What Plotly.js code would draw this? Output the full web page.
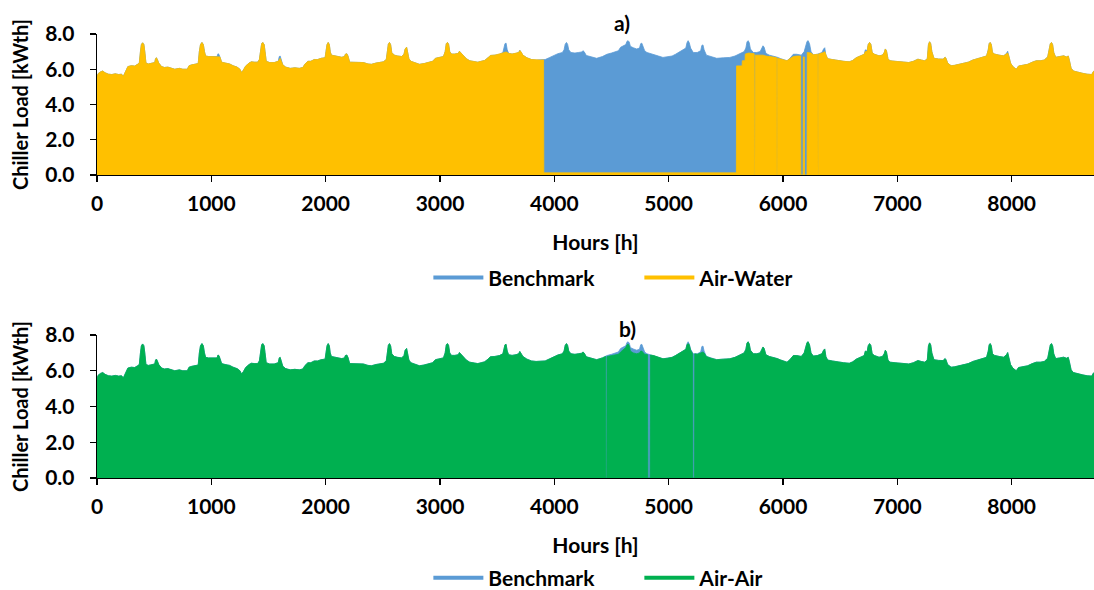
<!DOCTYPE html>
<html>
<head>
<meta charset="utf-8">
<script src="https://cdn.plot.ly/plotly-3.0.1.min.js"></script>
<style>html,body{margin:0;padding:0;background:#fff;}#chart{width:1094px;height:590px;}</style>
</head>
<body>
<div id="chart"></div>
<script>
// ---- Data: [hour, kWth] points along the upper envelope of the hourly chiller load ----
const benchmarkPts = [[0,5.55],[10,5.75],[30,5.85],[50,5.90],[70,5.80],[100,5.72],[130,5.70],[160,5.74],[190,5.70],[215,5.72],[230,5.60],[250,5.85],[270,6.15],[300,6.20],[330,6.18],[355,6.28],[370,6.35],[380,7.00],[388,7.40],[399,7.50],[410,7.40],[418,7.00],[428,6.35],[450,6.30],[480,6.35],[505,6.38],[512,6.60],[520,6.65],[528,6.55],[540,6.35],[565,6.15],[590,6.10],[620,6.12],[650,6.05],[680,6.00],[720,6.05],[750,6.00],[790,6.00],[805,6.20],[830,6.25],[860,6.30],[885,6.32],[895,7.00],[905,7.40],[918,7.52],[930,7.40],[940,7.00],[950,6.75],[975,6.72],[1000,6.72],[1030,6.70],[1050,6.72],[1058,6.88],[1066,6.85],[1075,6.70],[1090,6.40],[1120,6.35],[1160,6.30],[1190,6.20],[1225,6.12],[1250,6.00],[1264,5.82],[1280,5.95],[1300,6.18],[1330,6.35],[1350,6.42],[1380,6.40],[1405,6.40],[1420,6.55],[1432,7.20],[1440,7.45],[1450,7.52],[1462,7.40],[1470,7.00],[1480,6.45],[1510,6.38],[1550,6.38],[1585,6.45],[1594,6.72],[1602,6.75],[1610,6.55],[1625,6.25],[1650,6.12],[1690,6.05],[1730,6.08],[1770,6.05],[1800,6.10],[1820,6.30],[1845,6.45],[1870,6.45],[1900,6.55],[1930,6.55],[1960,6.62],[1995,6.65],[2005,7.10],[2012,7.40],[2022,7.52],[2032,7.40],[2040,7.00],[2050,6.80],[2080,6.76],[2110,6.70],[2140,6.68],[2165,6.72],[2172,6.85],[2185,6.88],[2195,6.75],[2210,6.40],[2250,6.38],[2290,6.40],[2330,6.38],[2370,6.30],[2400,6.28],[2440,6.35],[2475,6.40],[2505,6.42],[2530,6.55],[2540,7.10],[2548,7.42],[2558,7.52],[2568,7.40],[2578,6.95],[2600,6.80],[2630,6.75],[2665,6.72],[2685,6.85],[2695,7.15],[2708,7.25],[2716,7.00],[2728,6.60],[2745,6.45],[2780,6.35],[2820,6.28],[2860,6.32],[2900,6.38],[2935,6.45],[2960,6.62],[2990,6.68],[3030,6.72],[3045,7.00],[3055,7.45],[3065,7.52],[3075,7.42],[3085,7.00],[3100,6.86],[3130,6.86],[3160,6.90],[3170,7.02],[3180,6.95],[3200,6.78],[3230,6.60],[3260,6.48],[3300,6.45],[3330,6.40],[3360,6.45],[3390,6.50],[3420,6.65],[3440,6.78],[3480,6.80],[3520,6.85],[3550,6.95],[3560,7.20],[3568,7.45],[3578,7.48],[3588,7.10],[3600,6.90],[3630,6.86],[3665,6.90],[3688,6.95],[3698,7.08],[3708,7.00],[3725,6.80],[3760,6.65],[3800,6.55],[3840,6.52],[3880,6.52],[3920,6.55],[3960,6.67],[3990,6.78],[4030,6.88],[4070,6.95],[4085,7.10],[4095,7.42],[4106,7.52],[4116,7.42],[4126,7.10],[4145,6.95],[4180,6.92],[4210,6.95],[4240,6.98],[4250,7.05],[4260,7.00],[4280,6.78],[4320,6.70],[4370,6.62],[4420,6.72],[4460,6.85],[4500,6.92],[4530,6.98],[4560,7.05],[4580,7.25],[4600,7.30],[4625,7.40],[4635,7.58],[4645,7.62],[4655,7.55],[4665,7.30],[4690,7.22],[4720,7.15],[4745,7.20],[4755,7.45],[4765,7.48],[4775,7.25],[4790,7.05],[4810,6.95],[4840,6.88],[4870,6.85],[4910,6.75],[4950,6.67],[4990,6.70],[5030,6.75],[5060,6.85],[5090,6.98],[5120,7.12],[5150,7.20],[5160,7.50],[5170,7.62],[5180,7.50],[5192,7.20],[5215,6.95],[5250,6.95],[5280,7.05],[5290,7.35],[5300,7.38],[5310,7.10],[5330,6.80],[5370,6.70],[5420,6.62],[5480,6.65],[5535,6.67],[5580,6.75],[5622,6.86],[5660,7.00],[5675,7.20],[5685,7.55],[5695,7.62],[5705,7.50],[5715,7.15],[5740,6.95],[5770,6.95],[5800,7.00],[5815,7.20],[5825,7.33],[5835,7.25],[5850,6.90],[5880,6.80],[5915,6.76],[5950,6.68],[5980,6.60],[6010,6.52],[6035,6.48],[6060,6.62],[6090,6.85],[6120,6.85],[6160,6.80],[6185,7.00],[6200,7.30],[6210,7.58],[6220,7.62],[6232,7.45],[6245,7.00],[6265,6.82],[6300,6.85],[6340,6.95],[6355,7.15],[6365,7.22],[6375,6.80],[6390,6.60],[6430,6.55],[6480,6.48],[6530,6.45],[6580,6.42],[6610,6.50],[6640,6.65],[6680,6.75],[6710,6.85],[6720,7.10],[6735,7.05],[6745,7.40],[6757,7.52],[6768,7.42],[6780,6.95],[6800,6.85],[6840,6.76],[6870,6.80],[6885,6.95],[6895,7.15],[6905,7.05],[6918,6.60],[6935,6.48],[6980,6.45],[7020,6.42],[7060,6.40],[7100,6.38],[7140,6.45],[7180,6.57],[7210,6.52],[7240,6.48],[7262,6.60],[7272,7.40],[7282,7.56],[7292,7.45],[7302,7.00],[7320,6.62],[7360,6.58],[7400,6.57],[7418,6.68],[7425,6.62],[7440,6.35],[7470,6.20],[7500,6.22],[7540,6.28],[7580,6.30],[7620,6.40],[7660,6.52],[7700,6.60],[7745,6.67],[7780,6.75],[7795,7.10],[7803,7.45],[7812,7.52],[7822,7.40],[7832,6.95],[7850,6.86],[7890,6.80],[7930,6.76],[7955,6.90],[7965,7.02],[7975,6.75],[7990,6.35],[8010,6.15],[8040,6.00],[8060,6.18],[8100,6.22],[8140,6.28],[8180,6.40],[8215,6.48],[8250,6.48],[8285,6.52],[8315,6.70],[8330,7.10],[8338,7.45],[8348,7.52],[8358,7.40],[8368,6.95],[8385,6.68],[8420,6.72],[8455,6.76],[8480,6.70],[8495,6.75],[8505,6.50],[8520,6.05],[8540,5.90],[8580,5.82],[8620,5.77],[8660,5.72],[8700,5.70],[8716,5.88],[8740,5.85],[8760,5.80]];

const airWaterPts = [[0,5.55],[10,5.75],[30,5.85],[50,5.90],[70,5.80],[100,5.72],[130,5.70],[160,5.74],[190,5.70],[215,5.72],[230,5.60],[250,5.85],[270,6.15],[300,6.20],[330,6.18],[355,6.28],[370,6.35],[380,7.00],[388,7.40],[399,7.50],[410,7.40],[418,7.00],[428,6.35],[450,6.30],[480,6.35],[505,6.38],[512,6.60],[520,6.65],[528,6.55],[540,6.35],[565,6.15],[590,6.10],[620,6.12],[650,6.05],[680,6.00],[720,6.05],[750,6.00],[790,6.00],[805,6.20],[830,6.25],[860,6.30],[885,6.32],[895,7.00],[905,7.40],[918,7.52],[930,7.40],[940,7.00],[950,6.75],[975,6.72],[1000,6.72],[1030,6.70],[1050,6.72],[1058,6.72],[1066,6.72],[1075,6.70],[1090,6.40],[1120,6.35],[1160,6.30],[1190,6.20],[1225,6.12],[1250,6.00],[1264,5.82],[1280,5.95],[1300,6.18],[1330,6.35],[1350,6.42],[1380,6.40],[1405,6.40],[1420,6.55],[1432,7.20],[1440,7.45],[1450,7.52],[1462,7.40],[1470,7.00],[1480,6.45],[1510,6.38],[1550,6.38],[1585,6.45],[1594,6.60],[1602,6.62],[1610,6.50],[1625,6.25],[1650,6.12],[1690,6.05],[1730,6.08],[1770,6.05],[1800,6.10],[1820,6.30],[1845,6.45],[1870,6.45],[1900,6.55],[1930,6.55],[1960,6.62],[1995,6.65],[2005,7.10],[2012,7.40],[2022,7.52],[2032,7.40],[2040,7.00],[2050,6.80],[2080,6.76],[2110,6.70],[2140,6.68],[2165,6.72],[2172,6.85],[2185,6.88],[2195,6.75],[2210,6.40],[2250,6.38],[2290,6.40],[2330,6.38],[2370,6.30],[2400,6.28],[2440,6.35],[2475,6.40],[2505,6.42],[2530,6.55],[2540,7.10],[2548,7.42],[2558,7.52],[2568,7.40],[2578,6.95],[2600,6.80],[2630,6.75],[2665,6.72],[2685,6.85],[2695,7.15],[2708,7.25],[2716,7.00],[2728,6.60],[2745,6.45],[2780,6.35],[2820,6.28],[2860,6.32],[2900,6.38],[2935,6.45],[2960,6.62],[2990,6.68],[3030,6.72],[3045,7.00],[3055,7.45],[3065,7.52],[3075,7.42],[3085,7.00],[3100,6.86],[3130,6.86],[3160,6.90],[3170,7.02],[3180,6.95],[3200,6.78],[3230,6.60],[3260,6.48],[3300,6.45],[3330,6.40],[3360,6.45],[3390,6.50],[3420,6.65],[3440,6.78],[3480,6.80],[3520,6.85],[3550,6.92],[3560,6.95],[3568,6.98],[3578,6.98],[3588,6.95],[3600,6.90],[3630,6.86],[3665,6.90],[3688,6.95],[3698,7.05],[3708,7.00],[3725,6.80],[3760,6.65],[3800,6.55],[3840,6.52],[3880,6.52],[3906,6.53],[3908,0.12],[4500,0.12],[5000,0.12],[5592,0.12],[5594,6.19],[5642,6.19],[5644,6.48],[5668,6.48],[5670,6.86],[5700,6.92],[5720,6.90],[5748,6.88],[5750,0],[5755,0],[5757,6.80],[5770,6.80],[5800,6.78],[5825,6.80],[5850,6.75],[5880,6.72],[5915,6.70],[5944,6.66],[5946,0],[5949,0],[5951,6.62],[5980,6.58],[6010,6.52],[6035,6.48],[6060,6.60],[6090,6.72],[6120,6.75],[6154,6.75],[6156,0],[6176,0],[6178,6.70],[6186,6.70],[6188,0],[6210,0],[6212,6.95],[6232,6.95],[6245,6.92],[6265,6.82],[6300,6.85],[6304,6.85],[6306,0],[6309,0],[6311,6.86],[6340,6.90],[6355,6.95],[6365,7.00],[6375,6.80],[6390,6.60],[6430,6.55],[6480,6.48],[6530,6.45],[6580,6.42],[6610,6.50],[6640,6.65],[6680,6.75],[6710,6.85],[6720,7.00],[6735,7.00],[6745,7.40],[6757,7.52],[6768,7.42],[6780,6.95],[6800,6.85],[6840,6.76],[6870,6.80],[6885,6.95],[6895,7.15],[6905,7.05],[6918,6.60],[6935,6.48],[6980,6.45],[7020,6.42],[7060,6.40],[7100,6.38],[7140,6.45],[7180,6.57],[7210,6.52],[7240,6.48],[7262,6.60],[7272,7.40],[7282,7.56],[7292,7.45],[7302,7.00],[7320,6.62],[7360,6.58],[7400,6.57],[7418,6.68],[7425,6.62],[7440,6.35],[7470,6.20],[7500,6.22],[7540,6.28],[7580,6.30],[7620,6.40],[7660,6.52],[7700,6.60],[7745,6.67],[7780,6.75],[7795,7.10],[7803,7.45],[7812,7.52],[7822,7.40],[7832,6.95],[7850,6.86],[7890,6.80],[7930,6.76],[7955,6.88],[7965,6.92],[7975,6.75],[7990,6.35],[8010,6.15],[8040,6.00],[8060,6.18],[8100,6.22],[8140,6.28],[8180,6.40],[8215,6.48],[8250,6.48],[8285,6.52],[8315,6.70],[8330,7.10],[8338,7.45],[8348,7.52],[8358,7.40],[8368,6.95],[8385,6.68],[8420,6.72],[8455,6.76],[8480,6.70],[8495,6.75],[8505,6.50],[8520,6.05],[8540,5.90],[8580,5.82],[8620,5.77],[8660,5.72],[8700,5.70],[8716,5.88],[8740,5.85],[8760,5.80]];

const airAirPts = [[0,5.55],[10,5.75],[30,5.85],[50,5.90],[70,5.80],[100,5.72],[130,5.70],[160,5.74],[190,5.70],[215,5.72],[230,5.60],[250,5.85],[270,6.15],[300,6.20],[330,6.18],[355,6.28],[370,6.35],[380,7.00],[388,7.40],[399,7.50],[410,7.40],[418,7.00],[428,6.35],[450,6.30],[480,6.35],[505,6.38],[512,6.60],[520,6.65],[528,6.55],[540,6.35],[565,6.15],[590,6.10],[620,6.12],[650,6.05],[680,6.00],[720,6.05],[750,6.00],[790,6.00],[805,6.20],[830,6.25],[860,6.30],[885,6.32],[895,7.00],[905,7.40],[918,7.52],[930,7.40],[940,7.00],[950,6.75],[975,6.72],[1000,6.72],[1030,6.70],[1050,6.72],[1058,6.88],[1066,6.85],[1075,6.70],[1090,6.40],[1120,6.35],[1160,6.30],[1190,6.20],[1225,6.12],[1250,6.00],[1264,5.82],[1280,5.95],[1300,6.18],[1330,6.35],[1350,6.42],[1380,6.40],[1405,6.40],[1420,6.55],[1432,7.20],[1440,7.45],[1450,7.52],[1462,7.40],[1470,7.00],[1480,6.45],[1510,6.38],[1550,6.38],[1585,6.45],[1594,6.72],[1602,6.75],[1610,6.55],[1625,6.25],[1650,6.12],[1690,6.05],[1730,6.08],[1770,6.05],[1800,6.10],[1820,6.30],[1845,6.45],[1870,6.45],[1900,6.55],[1930,6.55],[1960,6.62],[1995,6.65],[2005,7.10],[2012,7.40],[2022,7.52],[2032,7.40],[2040,7.00],[2050,6.80],[2080,6.76],[2110,6.70],[2140,6.68],[2165,6.72],[2172,6.85],[2185,6.88],[2195,6.75],[2210,6.40],[2250,6.38],[2290,6.40],[2330,6.38],[2370,6.30],[2400,6.28],[2440,6.35],[2475,6.40],[2505,6.42],[2530,6.55],[2540,7.10],[2548,7.42],[2558,7.52],[2568,7.40],[2578,6.95],[2600,6.80],[2630,6.75],[2665,6.72],[2685,6.85],[2695,7.15],[2708,7.25],[2716,7.00],[2728,6.60],[2745,6.45],[2780,6.35],[2820,6.28],[2860,6.32],[2900,6.38],[2935,6.45],[2960,6.62],[2990,6.68],[3030,6.72],[3045,7.00],[3055,7.45],[3065,7.52],[3075,7.42],[3085,7.00],[3100,6.86],[3130,6.86],[3160,6.90],[3170,7.02],[3180,6.95],[3200,6.78],[3230,6.60],[3260,6.48],[3300,6.45],[3330,6.40],[3360,6.45],[3390,6.50],[3420,6.65],[3440,6.78],[3480,6.80],[3520,6.85],[3550,6.95],[3560,7.20],[3568,7.45],[3578,7.48],[3588,7.10],[3600,6.90],[3630,6.86],[3665,6.90],[3688,6.95],[3698,7.08],[3708,7.00],[3725,6.80],[3760,6.65],[3800,6.55],[3840,6.52],[3880,6.52],[3920,6.55],[3960,6.67],[3990,6.78],[4030,6.88],[4070,6.95],[4085,7.10],[4095,7.42],[4106,7.52],[4116,7.42],[4126,7.10],[4145,6.95],[4180,6.92],[4210,6.95],[4240,6.98],[4250,7.05],[4260,7.00],[4280,6.78],[4320,6.70],[4370,6.62],[4420,6.72],[4449,6.80],[4451,0],[4459,0],[4461,6.80],[4500,6.85],[4530,6.88],[4560,6.92],[4580,7.05],[4600,7.15],[4625,7.30],[4635,7.45],[4645,7.50],[4655,7.40],[4665,7.10],[4690,7.00],[4720,6.95],[4745,7.00],[4755,7.10],[4765,7.10],[4775,7.00],[4790,6.92],[4816,6.90],[4818,0],[4838,0],[4840,6.88],[4870,6.85],[4910,6.75],[4950,6.67],[4990,6.70],[5030,6.75],[5060,6.85],[5090,6.98],[5120,7.12],[5150,7.20],[5160,7.45],[5170,7.52],[5180,7.45],[5192,7.15],[5210,6.95],[5212,0],[5226,0],[5228,6.95],[5250,6.92],[5280,7.00],[5290,7.05],[5300,7.05],[5310,7.00],[5330,6.80],[5370,6.70],[5420,6.62],[5480,6.65],[5535,6.67],[5580,6.75],[5622,6.86],[5660,7.00],[5675,7.20],[5685,7.55],[5695,7.62],[5705,7.50],[5715,7.15],[5740,6.95],[5770,6.95],[5800,7.00],[5815,7.20],[5825,7.33],[5835,7.25],[5850,6.90],[5880,6.80],[5915,6.76],[5950,6.68],[5980,6.60],[6010,6.52],[6035,6.48],[6060,6.62],[6090,6.85],[6120,6.85],[6160,6.80],[6185,7.00],[6200,7.30],[6210,7.58],[6220,7.62],[6232,7.45],[6245,7.00],[6265,6.82],[6300,6.85],[6340,6.95],[6355,7.15],[6365,7.22],[6375,6.80],[6390,6.60],[6430,6.55],[6480,6.48],[6530,6.45],[6580,6.42],[6610,6.50],[6640,6.65],[6680,6.75],[6710,6.85],[6720,7.10],[6735,7.05],[6745,7.40],[6757,7.52],[6768,7.42],[6780,6.95],[6800,6.85],[6840,6.76],[6870,6.80],[6885,6.95],[6895,7.15],[6905,7.05],[6918,6.60],[6935,6.48],[6980,6.45],[7020,6.42],[7060,6.40],[7100,6.38],[7140,6.45],[7180,6.57],[7210,6.52],[7240,6.48],[7262,6.60],[7272,7.40],[7282,7.56],[7292,7.45],[7302,7.00],[7320,6.62],[7360,6.58],[7400,6.57],[7418,6.68],[7425,6.62],[7440,6.35],[7470,6.20],[7500,6.22],[7540,6.28],[7580,6.30],[7620,6.40],[7660,6.52],[7700,6.60],[7745,6.67],[7780,6.75],[7795,7.10],[7803,7.45],[7812,7.52],[7822,7.40],[7832,6.95],[7850,6.86],[7890,6.80],[7930,6.76],[7955,6.90],[7965,7.02],[7975,6.75],[7990,6.35],[8010,6.15],[8040,6.00],[8060,6.18],[8100,6.22],[8140,6.28],[8180,6.40],[8215,6.48],[8250,6.48],[8285,6.52],[8315,6.70],[8330,7.10],[8338,7.45],[8348,7.52],[8358,7.40],[8368,6.95],[8385,6.68],[8420,6.72],[8455,6.76],[8480,6.70],[8495,6.75],[8505,6.50],[8520,6.05],[8540,5.90],[8580,5.82],[8620,5.77],[8660,5.72],[8700,5.70],[8716,5.88],[8740,5.85],[8760,5.80]];

const xTicks = [0,1000,2000,3000,4000,5000,6000,7000,8000];
const yTicks = [0,2,4,6,8];
const panelLabels = ['a)','b)'];
const seriesNames = ['Benchmark','Air-Water','Air-Air'];

// ---- Styling ----
const BLUE = '#5B9BD5', YELLOW = '#FFC000', GREEN = '#00B050';
const FONT = {family: 'Lato, "Open Sans", sans-serif', size: 21, color: '#000', weight: 700};
const YTITLE_FONT = Object.assign({}, FONT, {size: 20});

function area(pts, color, xa, ya) {
  return {x: pts.map(p => p[0]), y: pts.map(p => p[1]), type: 'scatter', mode: 'lines', fill: 'tozeroy',
          fillcolor: color, line: {color: color, width: 0.8},
          xaxis: xa, yaxis: ya, showlegend: false, hoverinfo: 'skip'};
}
function legendItem(name, color, leg) {
  return {x: [null], y: [null], type: 'scatter', mode: 'lines', name: name,
          line: {color: color, width: 4}, legend: leg, showlegend: true, xaxis: 'x', yaxis: 'y'};
}

const traces = [
  area(benchmarkPts, BLUE, 'x', 'y'),
  area(airWaterPts, YELLOW, 'x', 'y'),
  area(benchmarkPts, BLUE, 'x2', 'y2'),
  area(airAirPts, GREEN, 'x2', 'y2'),
  legendItem(seriesNames[0], BLUE, 'legend'),
  legendItem(seriesNames[1], YELLOW, 'legend'),
  legendItem(seriesNames[0], BLUE, 'legend2'),
  legendItem(seriesNames[2], GREEN, 'legend2')
];

function xAxis(anchor) {
  return {anchor: anchor, domain: [0, 1], range: [0, 8720], tickvals: xTicks,
          ticks: 'outside', ticklen: 6, tickcolor: '#000', tickwidth: 1.3,
          showline: true, linecolor: '#000', linewidth: 1,
          showgrid: false, zeroline: false, tickfont: FONT, ticklabelstandoff: 4,
          title: {text: 'Hours [h]', font: FONT, standoff: 21}};
}
function yAxis(anchor, domain) {
  return {anchor: anchor, domain: domain, range: [0, 8], tickvals: yTicks, tickformat: '.1f',
          ticks: 'outside', ticklen: 6, tickcolor: '#000', tickwidth: 1.3,
          showline: true, linecolor: '#000', linewidth: 1.3,
          showgrid: false, zeroline: false, tickfont: FONT, ticklabelstandoff: 11,
          title: {text: 'Chiller Load [kWth]', font: YTITLE_FONT, standoff: 11}};
}

const legendBase = {orientation: 'h', xanchor: 'center', yanchor: 'middle', x: 0.544,
                    font: FONT, bgcolor: 'rgba(0,0,0,0)', itemwidth: 50, traceorder: 'normal',
                    entrywidth: 146};

const layout = {
  width: 1094, height: 590,
  margin: {l: 97, r: 0, t: 0, b: 0, autoexpand: false},
  paper_bgcolor: '#fff', plot_bgcolor: '#fff',
  font: FONT,
  xaxis: xAxis('y'),
  yaxis: yAxis('x', [0.7034, 0.9424]),
  xaxis2: xAxis('y2'),
  yaxis2: yAxis('x2', [0.1898, 0.4322]),
  legend: Object.assign({}, legendBase, {y: 0.529}),
  legend2: Object.assign({}, legendBase, {y: 0.0203}),
  annotations: [
    {text: panelLabels[0], xref: 'paper', yref: 'paper', x: 0.5266, y: 0.962, xanchor: 'center', yanchor: 'middle', showarrow: false, font: FONT},
    {text: panelLabels[1], xref: 'paper', yref: 'paper', x: 0.5316, y: 0.4424, xanchor: 'center', yanchor: 'middle', showarrow: false, font: FONT}
  ],
  showlegend: true
};

Plotly.newPlot('chart', traces, layout, {staticPlot: true, displayModeBar: false});
</script>
</body>
</html>
